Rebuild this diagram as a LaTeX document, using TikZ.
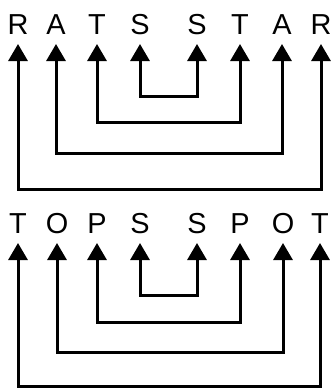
\documentclass[tikz,border=0pt]{standalone}
\usepackage{fontspec}
\setmainfont{Liberation Sans}
\usetikzlibrary{arrows.meta}
\begin{document}
\begin{tikzpicture}[x=1bp,y=-1bp,
  letter/.style={font=\fontsize{29}{29}\selectfont, inner sep=0pt, anchor=base},
  link/.style={line width=3bp, {Triangle[length=17bp,width=19bp]}-{Triangle[length=17bp,width=19bp]}}]
\useasboundingbox (0,0) rectangle (331,388);
% top word pair
\foreach \n/\x/\t in {1/18/R,2/56/A,3/97/T,4/140/S,5/197/S,6/240/T,7/282/A,8/321/R}{
  \node[letter] (a\n) at (\x,34) {\t};
  \coordinate (ta\n) at (\x,44);
}
\foreach \n/\x/\t in {1/18/T,2/57/O,3/97/P,4/140/S,5/197/S,6/240/P,7/283/O,8/320/T}{
  \node[letter] (b\n) at (\x,233) {\t};
  \coordinate (tb\n) at (\x,243);
}
\coordinate (ma1) at (170,96);
\coordinate (ma2) at (170,122);
\coordinate (ma3) at (170,153);
\coordinate (ma4) at (170,189);
\coordinate (mb1) at (170,295);
\coordinate (mb2) at (170,322);
\coordinate (mb3) at (170,352);
\coordinate (mb4) at (170,386);
\draw[link] (ta4) |- (ma1) -| (ta5);
\draw[link] (ta3) |- (ma2) -| (ta6);
\draw[link] (ta2) |- (ma3) -| (ta7);
\draw[link] (ta1) |- (ma4) -| (ta8);
\draw[link] (tb4) |- (mb1) -| (tb5);
\draw[link] (tb3) |- (mb2) -| (tb6);
\draw[link] (tb2) |- (mb3) -| (tb7);
\draw[link] (tb1) |- (mb4) -| (tb8);
\end{tikzpicture}
\end{document}
